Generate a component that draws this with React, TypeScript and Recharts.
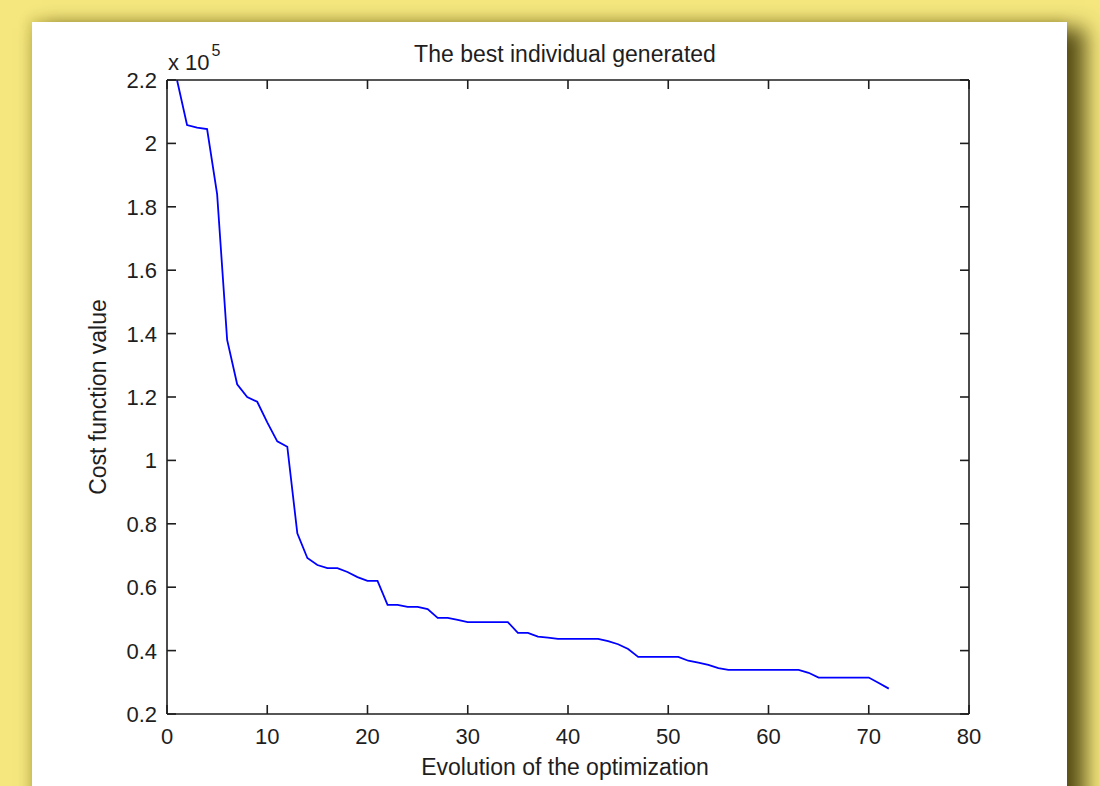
import * as React from "react";
import { Line, LineChart, XAxis, YAxis } from "recharts";

// generations of the genetic algorithm
const generations = [
  1, 2, 3, 4, 5, 6, 7, 8, 9, 10, 11, 12, 13, 14, 15, 16, 17, 18, 19, 20, 21, 22,
  23, 24, 25, 26, 27, 28, 29, 30, 31, 32, 33, 34, 35, 36, 37, 38, 39, 40, 41, 42,
  43, 44, 45, 46, 47, 48, 49, 50, 51, 52, 53, 54, 55, 56, 57, 58, 59, 60, 61, 62,
  63, 64, 65, 66, 67, 68, 69, 70, 71, 72,
];

// best cost value found at each generation
const bestCost = [
  220000, 205800, 205000, 204500, 184000, 138000, 124000, 120000, 118500, 112000,
  106000, 104300, 77000, 69200, 67000, 66000, 66000, 64800, 63200, 62000, 62000,
  54400, 54400, 53800, 53800, 53100, 50300, 50300, 49700, 49000, 49000, 49000,
  49000, 49000, 45600, 45600, 44400, 44100, 43700, 43700, 43700, 43700, 43700,
  43000, 42000, 40500, 38000, 38000, 38000, 38000, 38000, 36800, 36200, 35500,
  34500, 33900, 33900, 33900, 33900, 33900, 33900, 33900, 33900, 33000, 31500,
  31500, 31500, 31500, 31500, 31500, 29800, 28000,
];

const xTicks = [0, 10, 20, 30, 40, 50, 60, 70, 80];
const yTicks = [
  20000, 40000, 60000, 80000, 100000, 120000, 140000, 160000, 180000, 200000, 220000,
];

const data = generations.map((g, i) => ({ gen: g, cost: bestCost[i] }));

const FONT = "'Liberation Sans', Arial, Helvetica, sans-serif";
const INK = "#1e1e1e";
const TICK = 9; // tick length, also used as the axis tickSize
const X_GAP = 5; // extra gap under the inward ticks for x labels
const Y_GAP = 1;

const fmtY = (v: number) => String(Number((v / 1e5).toFixed(1)));

// matlab style ticks: short marks pointing into the plot box.
// recharts places (x, y) at axis + tickSize + tickMargin, so step back to the axis line.
function BottomTick({ x, y, payload }: any) {
  const ay = y - TICK - X_GAP;
  return (
    <g>
      <line x1={x} y1={ay} x2={x} y2={ay - TICK} stroke={INK} strokeWidth={1.6} />
      <text x={x} y={y} dy="0.71em" textAnchor="middle" fill={INK} fontSize={22} fontFamily={FONT}>
        {payload.value}
      </text>
    </g>
  );
}

function TopTick({ x, y }: any) {
  const ay = y + TICK;
  return <line x1={x} y1={ay} x2={x} y2={ay + TICK} stroke={INK} strokeWidth={1.6} />;
}

function LeftTick({ x, y, payload }: any) {
  const ax = x + TICK + Y_GAP;
  return (
    <g>
      <line x1={ax} y1={y} x2={ax + TICK} y2={y} stroke={INK} strokeWidth={1.6} />
      <text x={x} y={y} dy="0.36em" textAnchor="end" fill={INK} fontSize={22} fontFamily={FONT}>
        {fmtY(payload.value)}
      </text>
    </g>
  );
}

function RightTick({ x, y }: any) {
  const ax = x - TICK;
  return <line x1={ax} y1={y} x2={ax - TICK} y2={y} stroke={INK} strokeWidth={1.6} />;
}

export default function App() {
  const axisStroke = { stroke: INK, strokeWidth: 1.6 };

  return (
    <div
      style={{
        position: "absolute",
        left: 0,
        top: 0,
        width: 1100,
        height: 786,
        overflow: "hidden",
        background: "#f5e77e",
      }}
    >
      <div
        style={{
          position: "absolute",
          left: 32,
          top: 22,
          width: 1035,
          height: 800,
          background: "#ffffff",
          boxShadow:
            "14px 10px 20px 4px rgba(60,52,5,0.85), -3px -3px 10px rgba(140,120,0,0.2)",
        }}
      >
        <LineChart
          width={1035}
          height={764}
          data={data}
          margin={{ top: 57, right: 97, bottom: 2, left: 75 }}
        >
          <XAxis
            dataKey="gen"
            type="number"
            domain={[0, 80]}
            ticks={xTicks}
            allowDataOverflow
            height={70}
            axisLine={axisStroke}
            tickLine={false}
            tickSize={TICK}
            tickMargin={X_GAP}
            tick={<BottomTick />}
            label={{
              content: ({ viewBox }: any) => (
                <text
                  x={viewBox.x + viewBox.width / 2 - 3}
                  y={viewBox.y + 61}
                  textAnchor="middle"
                  fill={INK}
                  fontSize={23}
                  fontFamily={FONT}
                >
                  Evolution of the optimization
                </text>
              ),
            }}
          />
          <XAxis
            xAxisId="top"
            orientation="top"
            dataKey="gen"
            type="number"
            domain={[0, 80]}
            ticks={xTicks}
            allowDataOverflow
            height={1}
            axisLine={axisStroke}
            tickLine={false}
            tickSize={TICK}
            tickMargin={0}
            tick={<TopTick />}
            label={{
              content: ({ viewBox }: any) => (
                <text
                  x={viewBox.x + viewBox.width / 2 - 3}
                  y={viewBox.y - 17}
                  textAnchor="middle"
                  fill={INK}
                  fontSize={23}
                  fontFamily={FONT}
                >
                  The best individual generated
                </text>
              ),
            }}
          />
          <YAxis
            dataKey="cost"
            type="number"
            domain={[20000, 220000]}
            ticks={yTicks}
            allowDataOverflow
            width={60}
            axisLine={axisStroke}
            tickLine={false}
            tickSize={TICK}
            tickMargin={Y_GAP}
            tick={<LeftTick />}
            label={{
              content: ({ viewBox }: any) => {
                const cx = viewBox.x - 9;
                const cy = viewBox.y + viewBox.height / 2;
                return (
                  <g>
                    <text
                      x={cx}
                      y={cy}
                      dy="0.35em"
                      textAnchor="middle"
                      transform={`rotate(-90 ${cx} ${cy})`}
                      fill={INK}
                      fontSize={23}
                      fontFamily={FONT}
                    >
                      Cost function value
                    </text>
                    <text
                      x={viewBox.x + viewBox.width + 1}
                      y={viewBox.y - 10}
                      fill={INK}
                      fontSize={22}
                      fontFamily={FONT}
                    >
                      x 10
                      <tspan dx={2} dy={-14} fontSize={16}>
                        5
                      </tspan>
                    </text>
                  </g>
                );
              },
            }}
          />
          <YAxis
            yAxisId="right"
            orientation="right"
            dataKey="cost"
            type="number"
            domain={[20000, 220000]}
            ticks={yTicks}
            allowDataOverflow
            width={1}
            axisLine={axisStroke}
            tickLine={false}
            tickSize={TICK}
            tickMargin={0}
            tick={<RightTick />}
          />
          <Line
            type="linear"
            dataKey="cost"
            stroke="#0000ff"
            strokeWidth={1.8}
            dot={false}
            activeDot={false}
            isAnimationActive={false}
          />
        </LineChart>
      </div>
    </div>
  );
}
